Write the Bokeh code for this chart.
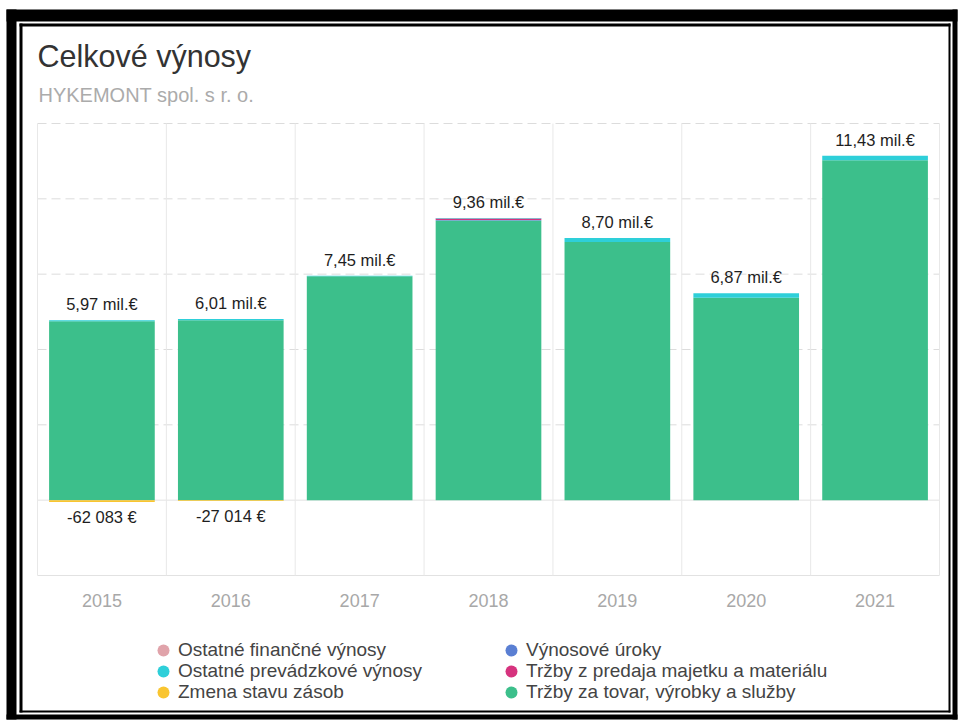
from bokeh.plotting import figure
from bokeh.models import (Range1d, Label, Legend, LegendItem, BoxAnnotation, ColumnDataSource)
from bokeh.core.properties import value
from bokeh.embed import file_html
from bokeh.resources import INLINE

# ---------------- data ----------------
years = ["2015", "2016", "2017", "2018", "2019", "2020", "2021"]
trzby_tovar = [5_940_000, 5_970_000, 7_430_000, 9_280_000, 8_570_000, 6_720_000, 11_280_000]
trzby_majetok = [0, 0, 0, 50_000, 0, 0, 0]
vynosove_uroky = [0, 0, 0, 20_000, 0, 0, 0]
ostatne_prevadzkove = [30_000, 40_000, 20_000, 10_000, 130_000, 150_000, 150_000]
ostatne_financne = [0, 0, 0, 0, 0, 0, 0]
zmena_stavu = [-62_083, -27_014, 0, 0, 0, 0, 0]
y_ticks = [-2_500_000, 0, 2_500_000, 5_000_000, 7_500_000, 10_000_000, 12_500_000]

title_text = "Celkové výnosy"
subtitle_text = "HYKEMONT spol. s r. o."

names = {
    "fin": "Ostatné finančné výnosy",
    "uroky": "Výnosové úroky",
    "prev": "Ostatné prevádzkové výnosy",
    "majetok": "Tržby z predaja majetku a materiálu",
    "zmena": "Zmena stavu zásob",
    "tovar": "Tržby za tovar, výrobky a služby",
}
colors = {
    "fin": "#e0a3aa",
    "uroky": "#5a7fd3",
    "prev": "#2ecfd9",
    "majetok": "#d6337e",
    "zmena": "#f9c530",
    "tovar": "#3cbf8b",
}
legend_columns = [["fin", "prev", "zmena"], ["uroky", "majetok", "tovar"]]

# ---------------- layout (pixels) ----------------
FONT = "Liberation Sans"
W, H = 962, 724
FL, FR, FT, FB = 37, 939, 123, 575          # chart area inside the canvas
n = len(years)
ppx = (FR - FL) / n                          # pixels per category
ppy = (FB - FT) / (y_ticks[-1] - y_ticks[0])  # pixels per euro

x_range = Range1d(-FL / ppx, n + (W - FR) / ppx)
y_range = Range1d(y_ticks[0] - (H - FB) / ppy, y_ticks[-1] + FT / ppy)

p = figure(width=W, height=H, x_range=x_range, y_range=y_range,
           output_backend="svg", toolbar_location=None,
           x_axis_location=None, y_axis_location=None,
           min_border=0, min_border_left=0, min_border_right=0,
           min_border_top=0, min_border_bottom=0)
p.outline_line_color = None
p.grid.visible = False
p.background_fill_color = "white"
p.border_fill_color = "white"

xc = [i + 0.5 for i in range(n)]   # category centres
xb = list(range(n + 1))            # category boundaries

# grid lines
pos_ticks = [t for t in y_ticks if t > 0]
solid_ticks = [t for t in y_ticks if t <= 0]
p.segment(x0=[0] * len(pos_ticks), x1=[n] * len(pos_ticks), y0=pos_ticks, y1=pos_ticks,
          line_color="#dcdcdc", line_width=1, line_dash="9 5")
p.segment(x0=[0] * len(solid_ticks), x1=[n] * len(solid_ticks), y0=solid_ticks, y1=solid_ticks,
          line_color="#e2e2e2", line_width=1)
p.segment(x0=xb, x1=xb, y0=[y_ticks[0]] * len(xb), y1=[y_ticks[-1]] * len(xb),
          line_color="#e8e8e8", line_width=1)

# bars
src = ColumnDataSource(dict(x=xc, tovar=trzby_tovar, majetok=trzby_majetok,
                            uroky=vynosove_uroky, prev=ostatne_prevadzkove,
                            fin=ostatne_financne, zmena=zmena_stavu))
stack_keys = ["tovar", "uroky", "majetok", "prev", "fin"]
p.vbar_stack(stack_keys, x="x", width=0.82, source=src,
             fill_color=[colors[k] for k in stack_keys], line_color=None)
p.vbar(x="x", top=0, bottom="zmena", width=0.82, source=src,
       fill_color=colors["zmena"], line_color=None)

# total labels
pos_tot = [a + b + c + d + e for a, b, c, d, e in
           zip(trzby_tovar, trzby_majetok, vynosove_uroky, ostatne_prevadzkove, ostatne_financne)]
pos_lbl = [f"{t / 1e6:.2f}".replace(".", ",") + " mil.€" for t in pos_tot]
p.text(x=xc, y=pos_tot, text=pos_lbl, text_align="center", text_baseline="alphabetic",
       y_offset=-16, text_font=value(FONT), text_font_size="16.5px", text_color="#1e1e1e")

neg_x = [x for x, v in zip(xc, zmena_stavu) if v < 0]
neg_vals = [v for v in zmena_stavu if v < 0]
neg_lbl = [f"{v:,}".replace(",", " ") + " €" for v in neg_vals]
p.text(x=neg_x, y=neg_vals, text=neg_lbl, text_align="center", text_baseline="top",
       y_offset=6, text_font=value(FONT), text_font_size="16.5px", text_color="#1e1e1e")

# category (x axis) labels
p.text(x=xc, y=[y_ticks[0]] * n, text=years, text_align="center", text_baseline="middle",
       y_offset=25, text_font=value(FONT), text_font_size="18px", text_color="#a8a8a8")

# title / subtitle
p.add_layout(Label(x=37, y=H - 55, x_units="screen", y_units="screen",
                   text=title_text, text_font=FONT, text_font_size="30.5px",
                   text_color="#333333", text_baseline="middle"))
p.add_layout(Label(x=38, y=H - 94, x_units="screen", y_units="screen",
                   text=subtitle_text, text_font=FONT, text_font_size="20px",
                   text_color="#ababab", text_baseline="middle"))

# legend (one single-item legend per entry, laid out in two columns)
dummy = {}
for k in names:
    dummy[k] = p.scatter(x=[float("nan")], y=[float("nan")], marker="circle", size=12,
                         fill_color=colors[k], line_color=None)

col_left = [148, 496]
row_centre = [650, 671, 692]
for ci, keys in enumerate(legend_columns):
    for ri, k in enumerate(keys):
        leg = Legend(items=[LegendItem(label=names[k], renderers=[dummy[k]])],
                     location=(col_left[ci], H - row_centre[ri] - 15),
                     orientation="vertical",
                     glyph_width=30, glyph_height=30, label_height=30, spacing=0,
                     padding=0, margin=0, label_standoff=0,
                     border_line_color=None, background_fill_alpha=0,
                     label_text_font=FONT, label_text_font_size="19px",
                     label_text_color="#444444")
        p.add_layout(leg)


# outer double frame
def box(x0, y0, x1, y1):
    p.add_layout(BoxAnnotation(left=x0, right=x1, top=H - y0, bottom=H - y1,
                               left_units="screen", right_units="screen",
                               top_units="screen", bottom_units="screen",
                               fill_color="black", fill_alpha=1, line_color=None,
                               level="overlay"))


box(6, 9, 957, 21)
box(6, 9, 16, 719)
box(952, 9, 957, 719)
box(6, 714, 957, 719)
box(19, 23, 950, 26)
box(19, 23, 22, 712)
box(948, 23, 950, 712)
box(19, 710, 950, 712)

open("out.html", "w").write(file_html(p, INLINE))
